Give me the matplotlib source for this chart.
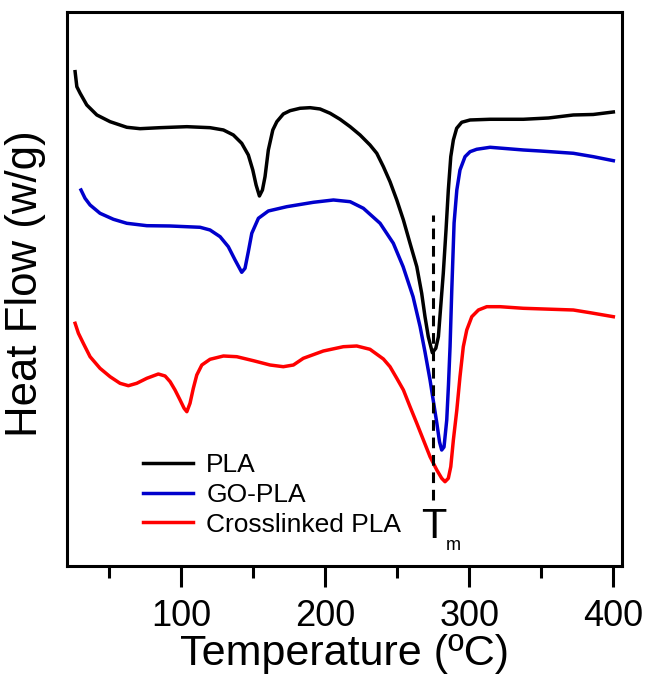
import numpy as np
import matplotlib
matplotlib.use("Agg")
import matplotlib.pyplot as plt
from matplotlib.ticker import MultipleLocator

# DSC curves (heat flow in arbitrary units, no y scale shown)
t_pla = [26.2, 27.4, 29.7, 34.3, 41.3, 50.5, 62.1, 71.3, 85.2, 103.8, 119.9, 129.2,
         136.1, 141.9, 146.5, 149.6, 151.9, 154.2, 156.3, 158.1, 160.4, 163.5, 166.3,
         170.8, 175.5, 182.4, 189.4, 196.3, 203.3, 210.2, 217.2, 224.1, 231.0, 235.7,
         240.3, 244.9, 249.6, 254.2, 258.8, 263.5, 266.9, 269.2, 271.5, 274.3, 276.7,
         278.5, 280.1, 281.9, 283.8, 285.4, 287.1, 288.9, 291.2, 294.7, 300.5, 314.4,
         337.5, 355.0, 372.2, 386.0, 400.0]
hf_pla = [494.3, 479.3, 472.7, 461, 451, 444.3, 438.7, 437.3, 438.3, 439.3, 438.3, 436,
          431, 422.7, 411, 396, 381, 370, 376, 389.3, 416, 436, 444.3,
          452, 455.3, 457.7, 458.3, 457, 452.7, 446.7, 439.3, 431, 421, 412.7,
          399.3, 384.3, 366, 346, 322.7, 299.3, 272.7, 249.3, 229.3, 213.3, 217.7,
          229.3, 259.3, 292.7, 336, 376, 409.3, 426, 437.7, 443.7, 446, 446.7,
          446.7, 448, 451, 451.5, 454]

t_go = [30.3, 33.1, 36.6, 43.5, 52.8, 62.1, 76.0, 92.1, 113.0, 119.9, 126.9, 132.6,
        137.3, 141.9, 144.2, 146.5, 148.9, 153.5, 160.4, 173.2, 191.7, 205.6, 217.2,
        226.4, 238.0, 247.2, 254.0, 260.9, 265.8, 269.2, 272.7, 277.4, 279.3, 280.8,
        282.4, 284.3, 285.5, 286.6, 287.8, 289.4, 291.3, 293.5, 297.0, 300.5, 305.1,
        314.4, 337.5, 349.1, 372.2, 386.1, 400.0]
hf_go = [376, 367.7, 361, 352.7, 346.7, 342.7, 340.3, 340, 338.7, 336, 329.3, 319.3,
         306, 293.7, 297.7, 314.3, 332.7, 347.7, 355, 359.3, 363.7, 366, 364.3,
         357.7, 342.7, 322.7, 299.3, 269.3, 239.3, 214, 186, 143, 124, 116,
         119, 146, 181, 219.3, 276, 343, 376, 396, 409.3, 414.3, 416.7,
         418.7, 416, 415, 412.7, 409.3, 405.3]

t_xl = [26.2, 28.5, 31.9, 36.6, 43.5, 50.5, 57.4, 63.2, 69.0, 76.0, 84.0, 88.7,
        92.2, 95.6, 99.1, 101.9, 103.8, 106.0, 108.3, 110.7, 114.2, 119.9, 129.2,
        138.5, 150.0, 161.6, 170.8, 177.8, 184.7, 198.6, 212.5, 221.8, 231.0, 240.3,
        244.9, 249.6, 254.2, 258.8, 263.5, 268.1, 272.7, 277.4, 280.8, 283.1, 285.4,
        287.1, 288.9, 291.3, 293.5, 295.8, 298.2, 301.7, 306.3, 312.1, 321.3, 337.5,
        372.2, 383.8, 400.0]
hf_xl = [242.7, 232.7, 222.7, 209.3, 197.7, 189.3, 182.7, 180.3, 182.7, 187.7, 192, 190,
         184.3, 176, 166, 157.7, 154.3, 162.7, 177.7, 191, 201, 206.7, 210,
         209.3, 205.3, 201, 199.3, 201, 207.7, 215, 219.3, 220, 216.7, 207,
         199.3, 187.7, 176, 159.3, 142.7, 126, 109.3, 96, 87.7, 84.3, 87.7,
         99.3, 126, 156, 189.3, 219.3, 236, 249.3, 256, 259.3, 259.3, 257.7,
         256, 253.3, 249.3]

labels = ["PLA", "GO-PLA", "Crosslinked PLA"]
colors = ["black", "#0000cc", "red"]
tm = 274.6

plt.rcParams['font.family'] = ['Liberation Sans', 'DejaVu Sans']

fig = plt.figure(figsize=(6.48, 6.88), dpi=100)
ax = fig.add_axes([0.1039, 0.1773, 0.8555, 0.8053])

for t, hf, lab, c in zip([t_pla, t_go, t_xl], [hf_pla, hf_go, hf_xl], labels, colors):
    ax.plot(t, hf, color=c, lw=2.5, label=lab, solid_joinstyle='round')

ax.plot([tm, tm], [66, 351], color='black', lw=2.2, dashes=(3.5, 2.2))
ax.text(tm + 0.5, 28, "T", fontsize=30, ha='center', va='baseline')
ax.text(tm + 14.5, 16, "m", fontsize=13, ha='center', va='baseline')

ax.set_xlim(20.8, 405.8)
ax.set_ylim(0, 554)
ax.xaxis.set_major_locator(MultipleLocator(100))
ax.xaxis.set_minor_locator(MultipleLocator(50))
ax.set_yticks([])
ax.tick_params(axis='x', which='major', direction='out', length=15, width=2.2,
               labelsize=26, pad=9)
ax.tick_params(axis='x', which='minor', direction='out', length=8.5, width=2.2)
for s in ax.spines.values():
    s.set_linewidth(2.2)

ax.set_xlabel("Temperature (ºC)", fontsize=31, labelpad=0)
ax.set_ylabel("Heat Flow (w/g)", fontsize=31.5)
ax.yaxis.set_label_coords(-0.039, 0.51)

ax.legend(loc='upper left', bbox_to_anchor=(143 / 648, 1 - 453 / 688),
          bbox_transform=fig.transFigure, frameon=False, fontsize=19,
          handlelength=1.9, handletextpad=0.5, labelspacing=0.22,
          borderpad=0, borderaxespad=0)

fig.savefig("out.png", dpi=100)
